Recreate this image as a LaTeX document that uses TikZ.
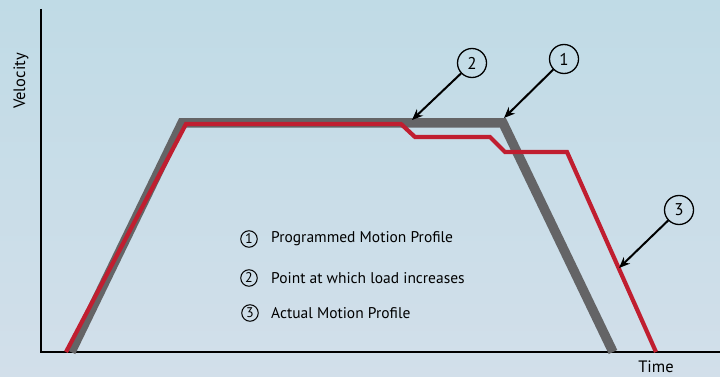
\documentclass[tikz,border=0pt]{standalone}
\usepackage{fontspec}
\setmainfont{PT Sans}
\usetikzlibrary{arrows.meta}
\definecolor{bgtop}{RGB}{192,219,230}
\definecolor{bgbot}{RGB}{210,223,234}
\definecolor{profgrey}{RGB}{100,100,102}
\definecolor{profred}{RGB}{192,30,48}
\tikzset{
  axisline/.style={black,line width=1.4pt},
  greyprof/.style={profgrey,line width=9.5pt,miter limit=10},
  redprof/.style={profred,line width=4.2pt,miter limit=10},
  callout/.style={circle,draw=black,line width=1.3pt,minimum size=29pt,inner sep=0pt,font=\fontsize{17}{17}\selectfont},
  legcirc/.style={circle,draw=black,line width=1pt,minimum size=16.5pt,inner sep=0pt,font=\fontsize{14}{14}\selectfont},
  legtext/.style={anchor=west,inner sep=0pt,font=\fontsize{15.5}{16}\selectfont},
  pointer/.style={black,line width=2pt,-{Stealth[length=11pt,width=9pt]},shorten <=0pt},
  axlabel/.style={inner sep=0pt,font=\fontsize{16.5}{16.5}\selectfont}
}
\begin{document}
\begin{tikzpicture}[x=1pt,y=-1pt]
\useasboundingbox (0,0) rectangle (720,377);
\shade[top color=bgtop,bottom color=bgbot] (0,0) rectangle (720,377);
% axes
\coordinate (ytop) at (41,9);
\coordinate (orig) at (41,352);
\coordinate (xend) at (720,352);
\draw[axisline] (ytop) -- (orig) -- (xend);
\node[axlabel,rotate=90] (vel) at (21,81) {Velocity};
\node[axlabel,anchor=base] (time) at (656,372) {Time};
% programmed profile
\coordinate (g0) at (71,352);
\coordinate (g1) at (182,123);
\coordinate (g2) at (503,123);
\coordinate (g3) at (613,352);
\draw[greyprof] (g0) -- (g1) -- (g2) -- (g3);
% actual profile
\coordinate (r0) at (66,352);
\coordinate (r1) at (186,124);
\coordinate (r2) at (401,124);
\coordinate (r3) at (415,137);
\coordinate (r4) at (490,137);
\coordinate (r5) at (505,152);
\coordinate (r6) at (567,152);
\coordinate (r7) at (656,352);
\draw[redprof] (r0) -- (r1) -- (r2) -- (r3) -- (r4) -- (r5) -- (r6) -- (r7);
% callouts
\node[callout] (c1) at (564,59) {1};
\node[callout] (c2) at (472,63) {2};
\node[callout] (c3) at (679,210) {3};
\coordinate (t1) at (504,118);
\coordinate (t2) at (412,120);
\coordinate (t3) at (619,268);
\draw[pointer] (c1) -- (t1);
\draw[pointer] (c2) -- (t2);
\draw[pointer] (c3) -- (t3);
% legend
\node[legcirc] (l1) at (249,239) {1};
\node[legcirc] (l2) at (249,278) {2};
\node[legcirc] (l3) at (250,313) {3};
\node[legtext] (lt1) at (271,239) {Programmed Motion Profile};
\node[legtext] (lt2) at (271,278) {Point at which load increases};
\node[legtext] (lt3) at (271,313) {Actual Motion Profile};
\end{tikzpicture}
\end{document}
